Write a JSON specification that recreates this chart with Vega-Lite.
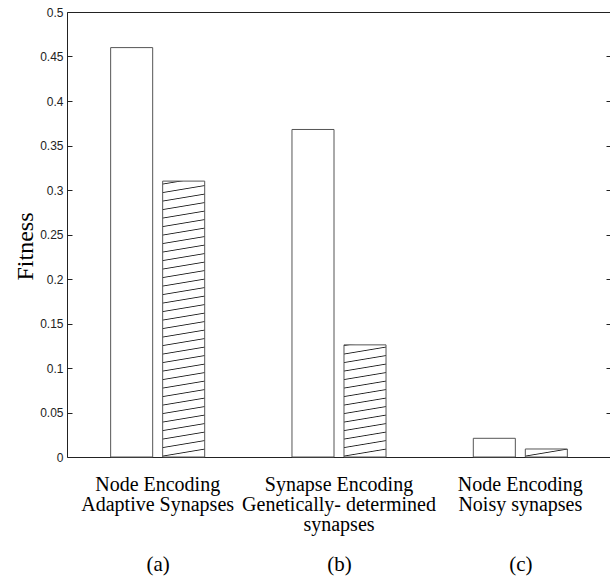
{
  "$schema": "https://vega.github.io/schema/vega-lite/v6.json",
  "width": 544,
  "height": 445,
  "autosize": {"type": "none"},
  "padding": {"left": 67, "top": 12, "right": 0, "bottom": 119},
  "background": "white",
  "config": {
    "view": {"stroke": "#222", "strokeWidth": 1},
    "axis": {"grid": false}
  },
  "data": {
    "values": [
      {"setup": "Node Encoding|Adaptive Synapses", "panel": "(a)", "series": "plain", "fitness": 0.46},
      {"setup": "Node Encoding|Adaptive Synapses", "panel": "(a)", "series": "hatched", "fitness": 0.31},
      {"setup": "Synapse Encoding|Genetically- determined|synapses", "panel": "(b)", "series": "plain", "fitness": 0.368},
      {"setup": "Synapse Encoding|Genetically- determined|synapses", "panel": "(b)", "series": "hatched", "fitness": 0.126},
      {"setup": "Node Encoding|Noisy synapses", "panel": "(c)", "series": "plain", "fitness": 0.021},
      {"setup": "Node Encoding|Noisy synapses", "panel": "(c)", "series": "hatched", "fitness": 0.009}
    ]
  },
  "resolve": {"scale": {"x": "independent"}, "axis": {"x": "independent", "y": "independent"}},
  "layer": [
    {
      "mark": {"type": "bar", "stroke": "#555", "strokeWidth": 1},
      "encoding": {
        "x": {
          "field": "setup", "type": "nominal", "sort": null,
          "scale": {"paddingInner": 0, "paddingOuter": 0},
          "axis": {
            "orient": "bottom",
            "title": null, "domain": false, "ticks": false, "tickSize": 0,
            "labelAngle": 0, "labelFont": "Liberation Serif", "labelFontSize": 20,
            "labelColor": "#000", "labelLineHeight": 20, "labelPadding": 17,
            "labelBaseline": "top", "labelOverlap": false, "labelBound": false,
            "labelLimit": 0,
            "labelExpr": "split(datum.label, '|')"
          }
        },
        "xOffset": {
          "field": "series", "type": "nominal", "sort": ["plain", "hatched"],
          "scale": {"paddingInner": 0.192, "paddingOuter": 0.839}
        },
        "y": {
          "field": "fitness", "type": "quantitative",
          "scale": {"domain": [0, 0.5], "nice": false},
          "axis": {
            "orient": "left",
            "values": [0, 0.05, 0.1, 0.15, 0.2, 0.25, 0.3, 0.35, 0.4, 0.45, 0.5],
            "format": "~g", "domain": false, "tickSize": -5, "tickColor": "#222",
            "labelFont": "Liberation Sans", "labelFontSize": 12, "labelColor": "#222",
            "labelPadding": 9, "labelFlush": false, "labelOverlap": false,
            "title": "Fitness", "titleFont": "Liberation Serif", "titleFontSize": 24,
            "titleFontWeight": "normal", "titleColor": "#000", "titleAngle": -90,
            "titleX": -35, "titleY": 234, "titleBaseline": "alphabetic", "titleAlign": "center"
          }
        },
        "fill": {
          "condition": [
            {
              "test": "datum.panel === '(a)' && datum.series === 'hatched'",
              "value": {
                "gradient": "linear", "x1": 0, "y1": 1, "x2": -0.0254, "y2": 0,
                "stops": [
                  {"offset": 0, "color": "white"}, {"offset": 0.0033, "color": "#222"}, {"offset": 0.0066, "color": "white"},
                  {"offset": 0.0308, "color": "white"}, {"offset": 0.0341, "color": "#222"}, {"offset": 0.0374, "color": "white"},
                  {"offset": 0.0616, "color": "white"}, {"offset": 0.0649, "color": "#222"}, {"offset": 0.0682, "color": "white"},
                  {"offset": 0.0924, "color": "white"}, {"offset": 0.0957, "color": "#222"}, {"offset": 0.0990, "color": "white"},
                  {"offset": 0.1232, "color": "white"}, {"offset": 0.1265, "color": "#222"}, {"offset": 0.1298, "color": "white"},
                  {"offset": 0.1540, "color": "white"}, {"offset": 0.1573, "color": "#222"}, {"offset": 0.1606, "color": "white"},
                  {"offset": 0.1847, "color": "white"}, {"offset": 0.1880, "color": "#222"}, {"offset": 0.1913, "color": "white"},
                  {"offset": 0.2155, "color": "white"}, {"offset": 0.2188, "color": "#222"}, {"offset": 0.2221, "color": "white"},
                  {"offset": 0.2463, "color": "white"}, {"offset": 0.2496, "color": "#222"}, {"offset": 0.2529, "color": "white"},
                  {"offset": 0.2771, "color": "white"}, {"offset": 0.2804, "color": "#222"}, {"offset": 0.2837, "color": "white"},
                  {"offset": 0.3079, "color": "white"}, {"offset": 0.3112, "color": "#222"}, {"offset": 0.3145, "color": "white"},
                  {"offset": 0.3387, "color": "white"}, {"offset": 0.3420, "color": "#222"}, {"offset": 0.3453, "color": "white"},
                  {"offset": 0.3695, "color": "white"}, {"offset": 0.3728, "color": "#222"}, {"offset": 0.3761, "color": "white"},
                  {"offset": 0.4003, "color": "white"}, {"offset": 0.4036, "color": "#222"}, {"offset": 0.4069, "color": "white"},
                  {"offset": 0.4311, "color": "white"}, {"offset": 0.4344, "color": "#222"}, {"offset": 0.4377, "color": "white"},
                  {"offset": 0.4619, "color": "white"}, {"offset": 0.4652, "color": "#222"}, {"offset": 0.4685, "color": "white"},
                  {"offset": 0.4926, "color": "white"}, {"offset": 0.4959, "color": "#222"}, {"offset": 0.4992, "color": "white"},
                  {"offset": 0.5234, "color": "white"}, {"offset": 0.5267, "color": "#222"}, {"offset": 0.5300, "color": "white"},
                  {"offset": 0.5542, "color": "white"}, {"offset": 0.5575, "color": "#222"}, {"offset": 0.5608, "color": "white"},
                  {"offset": 0.5850, "color": "white"}, {"offset": 0.5883, "color": "#222"}, {"offset": 0.5916, "color": "white"},
                  {"offset": 0.6158, "color": "white"}, {"offset": 0.6191, "color": "#222"}, {"offset": 0.6224, "color": "white"},
                  {"offset": 0.6466, "color": "white"}, {"offset": 0.6499, "color": "#222"}, {"offset": 0.6532, "color": "white"},
                  {"offset": 0.6774, "color": "white"}, {"offset": 0.6807, "color": "#222"}, {"offset": 0.6840, "color": "white"},
                  {"offset": 0.7082, "color": "white"}, {"offset": 0.7115, "color": "#222"}, {"offset": 0.7148, "color": "white"},
                  {"offset": 0.7390, "color": "white"}, {"offset": 0.7423, "color": "#222"}, {"offset": 0.7456, "color": "white"},
                  {"offset": 0.7698, "color": "white"}, {"offset": 0.7731, "color": "#222"}, {"offset": 0.7764, "color": "white"},
                  {"offset": 0.8005, "color": "white"}, {"offset": 0.8038, "color": "#222"}, {"offset": 0.8071, "color": "white"},
                  {"offset": 0.8313, "color": "white"}, {"offset": 0.8346, "color": "#222"}, {"offset": 0.8379, "color": "white"},
                  {"offset": 0.8621, "color": "white"}, {"offset": 0.8654, "color": "#222"}, {"offset": 0.8687, "color": "white"},
                  {"offset": 0.8929, "color": "white"}, {"offset": 0.8962, "color": "#222"}, {"offset": 0.8995, "color": "white"},
                  {"offset": 0.9237, "color": "white"}, {"offset": 0.9270, "color": "#222"}, {"offset": 0.9303, "color": "white"},
                  {"offset": 0.9545, "color": "white"}, {"offset": 0.9578, "color": "#222"}, {"offset": 0.9611, "color": "white"},
                  {"offset": 0.9853, "color": "white"}, {"offset": 0.9886, "color": "#222"}, {"offset": 0.9919, "color": "white"}
                ]
              }
            },
            {
              "test": "datum.panel === '(b)' && datum.series === 'hatched'",
              "value": {
                "gradient": "linear", "x1": 0, "y1": 1, "x2": -0.0624, "y2": 0,
                "stops": [
                  {"offset": 0, "color": "white"}, {"offset": 0.0081, "color": "#222"}, {"offset": 0.0162, "color": "white"},
                  {"offset": 0.0755, "color": "white"}, {"offset": 0.0836, "color": "#222"}, {"offset": 0.0917, "color": "white"},
                  {"offset": 0.1511, "color": "white"}, {"offset": 0.1592, "color": "#222"}, {"offset": 0.1673, "color": "white"},
                  {"offset": 0.2266, "color": "white"}, {"offset": 0.2347, "color": "#222"}, {"offset": 0.2428, "color": "white"},
                  {"offset": 0.3021, "color": "white"}, {"offset": 0.3102, "color": "#222"}, {"offset": 0.3183, "color": "white"},
                  {"offset": 0.3777, "color": "white"}, {"offset": 0.3858, "color": "#222"}, {"offset": 0.3939, "color": "white"},
                  {"offset": 0.4532, "color": "white"}, {"offset": 0.4613, "color": "#222"}, {"offset": 0.4694, "color": "white"},
                  {"offset": 0.5287, "color": "white"}, {"offset": 0.5368, "color": "#222"}, {"offset": 0.5449, "color": "white"},
                  {"offset": 0.6042, "color": "white"}, {"offset": 0.6123, "color": "#222"}, {"offset": 0.6204, "color": "white"},
                  {"offset": 0.6798, "color": "white"}, {"offset": 0.6879, "color": "#222"}, {"offset": 0.6960, "color": "white"},
                  {"offset": 0.7553, "color": "white"}, {"offset": 0.7634, "color": "#222"}, {"offset": 0.7715, "color": "white"},
                  {"offset": 0.8308, "color": "white"}, {"offset": 0.8389, "color": "#222"}, {"offset": 0.8470, "color": "white"},
                  {"offset": 0.9064, "color": "white"}, {"offset": 0.9145, "color": "#222"}, {"offset": 0.9226, "color": "white"},
                  {"offset": 0.9819, "color": "white"}, {"offset": 0.9900, "color": "#222"}, {"offset": 0.9981, "color": "white"}
                ]
              }
            },
            {
              "test": "datum.panel === '(c)' && datum.series === 'hatched'",
              "value": {
                "gradient": "linear", "x1": 0, "y1": 1, "x2": -0.875, "y2": 0,
                "stops": [
                  {"offset": 0, "color": "white"}, {"offset": 0.0646, "color": "#222"}, {"offset": 0.1292, "color": "white"}
                ]
              }
            }
          ],
          "value": "white"
        }
      }
    },
    {
      "mark": {"type": "point", "opacity": 0},
      "encoding": {
        "x": {
          "field": "panel", "type": "nominal", "sort": null,
          "scale": {"paddingInner": 0, "paddingOuter": 0},
          "axis": {
            "orient": "bottom",
            "title": null, "domain": false, "ticks": false, "tickSize": 0,
            "labelAngle": 0, "labelFont": "Liberation Serif", "labelFontSize": 21,
            "labelColor": "#000", "labelPadding": 96,
            "labelBaseline": "top", "labelOverlap": false, "labelBound": false,
            "labelLimit": 0
          }
        },
        "y": {
          "field": "fitness", "type": "quantitative",
          "scale": {"domain": [0, 0.5], "nice": false},
          "axis": {
            "orient": "right", "title": null, "labels": false, "domain": false,
            "values": [0, 0.05, 0.1, 0.15, 0.2, 0.25, 0.3, 0.35, 0.4, 0.45, 0.5],
            "tickSize": -5, "tickColor": "#222"
          }
        }
      }
    }
  ]
}
